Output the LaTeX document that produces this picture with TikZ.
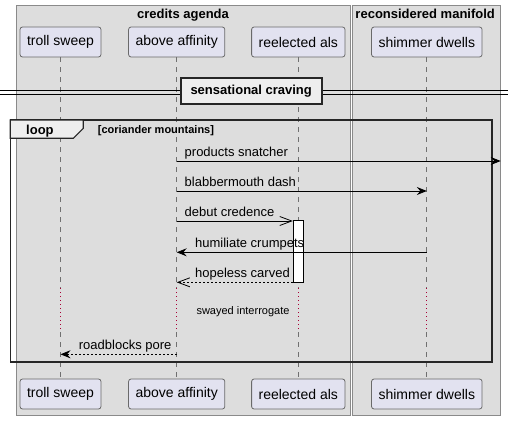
\documentclass[tikz,border=0pt]{standalone}
\usepackage{fontspec}
\setmainfont{Liberation Sans}
\usetikzlibrary{arrows.meta,positioning}

\definecolor{grpfill}{HTML}{DDDDDD}
\definecolor{grpline}{HTML}{8A8A8A}
\definecolor{actfill}{HTML}{E2E2F0}
\definecolor{actline}{HTML}{6A6A6A}
\definecolor{lifecol}{HTML}{707070}
\definecolor{tabfill}{HTML}{EEEEEE}
\definecolor{delaycol}{HTML}{A80036}

\tikzset{
  grp/.style={draw=grpline, fill=grpfill, line width=0.8pt},
  grptitle/.style={font=\fontsize{13}{15}\selectfont\bfseries, inner sep=0pt, anchor=base},
  actor/.style={draw=actline, fill=actfill, line width=0.8pt, rounded corners=2.5pt,
    minimum height=30pt, inner xsep=7pt, font=\fontsize{14}{16}\selectfont},
  life/.style={draw=lifecol, line width=0.8pt, dash pattern=on 5pt off 5pt},
  delay/.style={draw=delaycol, line width=0.8pt, dash pattern=on 1pt off 3pt},
  frame/.style={draw=black!85, line width=1.6pt},
  divider/.style={draw=black!85, fill=tabfill, line width=1.6pt, minimum width=141pt,
    minimum height=26pt, font=\fontsize{13}{15}\selectfont\bfseries},
  actbar/.style={draw=black, fill=white, line width=0.8pt, minimum width=10pt,
    minimum height=62pt, inner sep=0pt},
  msg/.style={line width=0.8pt, -{Stealth[length=10pt,width=8pt,inset=3.5pt]}},
  reply/.style={msg, dash pattern=on 2pt off 2pt},
  open/.style={line width=0.8pt, -{Straight Barb[length=12pt,width=9pt,line width=0.8pt]}},
  openreply/.style={open, dash pattern=on 2pt off 2pt},
  lbl/.style={font=\fontsize{13}{15}\selectfont, inner sep=0pt, anchor=base west},
}

\begin{document}
\begin{tikzpicture}[x=1pt,y=-1pt]
  \useasboundingbox[fill=white] (0,0) rectangle (508,420);

  % Groups
  \draw[grp] (16.5,5) rectangle (350.5,415);
  \draw[grp] (352.5,5) rectangle (500.5,415);
  \node[grptitle] (g1) at (183,18.5) {credits agenda};
  \node[grptitle] (g2) at (425.2,18.5) {reconsidered manifold};

  % Participants
  \node[actor] (ts) at (60.5,42) {troll sweep};
  \node[actor] (aa) at (176.7,42) {above affinity};
  \node[actor] (ra) at (298.3,42) {reelected als};
  \node[actor] (sd) at (426.8,42) {shimmer dwells};
  \node[actor] (tsB) at (60.5,394) {troll sweep};
  \node[actor] (aaB) at (176.7,394) {above affinity};
  \node[actor] (raB) at (298.3,394) {reelected als};
  \node[actor] (sdB) at (426.8,394) {shimmer dwells};

  % Rows
  \coordinate (d1) at (0,288);
  \coordinate (d2) at (0,332);
  \coordinate (m1) at (0,161);
  \coordinate (m2) at (0,191);
  \coordinate (m3) at (0,221);
  \coordinate (m4) at (0,252.3);
  \coordinate (m5) at (0,282.3);
  \coordinate (m7) at (0,354.3);
  \coordinate (edge) at (500.7,161);

  % Lifelines
  \foreach \p in {ts,aa,ra,sd} {
    \draw[life] (\p.south) -- (\p |- d1);
    \draw[delay] (\p |- d1) -- (\p |- d2);
    \draw[life] (\p |- d2) -- (\p B.north);
  }

  % Divider
  \draw[line width=0.8pt] (0,90.7) -- (508,90.7);
  \draw[line width=0.8pt] (0,94) -- (508,94);
  \node[divider] (div) at (251.2,91) {sensational craving};

  % Loop
  \draw[frame] (10.3,120) rectangle (491.7,361.7);
  \draw[frame, fill=tabfill, line width=1.2pt] (10.3,120) -- (83.3,120) -- (83.3,128.3)
    -- (73.3,138.3) -- (10.3,138.3) -- cycle;
  \node[font=\fontsize{13}{15}\selectfont\bfseries, inner sep=0pt, anchor=base west]
    (lp) at (26,134) {loop};
  \node[font=\fontsize{11}{13}\selectfont\bfseries, inner sep=0pt, anchor=base west]
    (lpc) at (97.7,133.3) {[coriander mountains]};

  % Edges
  \draw[msg] (aa |- m1) -- node[lbl, at start, xshift=7.6pt, yshift=5pt] {products snatcher} (edge);
  \draw[msg] (aa |- m2) -- node[lbl, at start, xshift=7.6pt, yshift=5pt] {blabbermouth dash} (sd |- m2);
  \node[actbar] (act) at (298.3,251.7) {};
  \draw[open] (aa |- m3) -- node[lbl, at start, xshift=7.6pt, yshift=5pt] {debut credence} (act.west |- m3);
  \draw[msg] (sd |- m4) -- node[lbl, at end, xshift=18pt, yshift=5pt] {humiliate crumpets} (aa |- m4);
  \draw[openreply] (act.west |- m5) -- node[lbl, at end, xshift=18pt, yshift=5pt] {hopeless carved} (aa |- m5);
  \node[font=\fontsize{11}{13}\selectfont, inner sep=0pt] (sw) at (243,312) {swayed interrogate};
  \draw[reply] (aa |- m7) -- node[lbl, at end, xshift=18pt, yshift=5pt] {roadblocks pore} (ts |- m7);
\end{tikzpicture}
\end{document}
